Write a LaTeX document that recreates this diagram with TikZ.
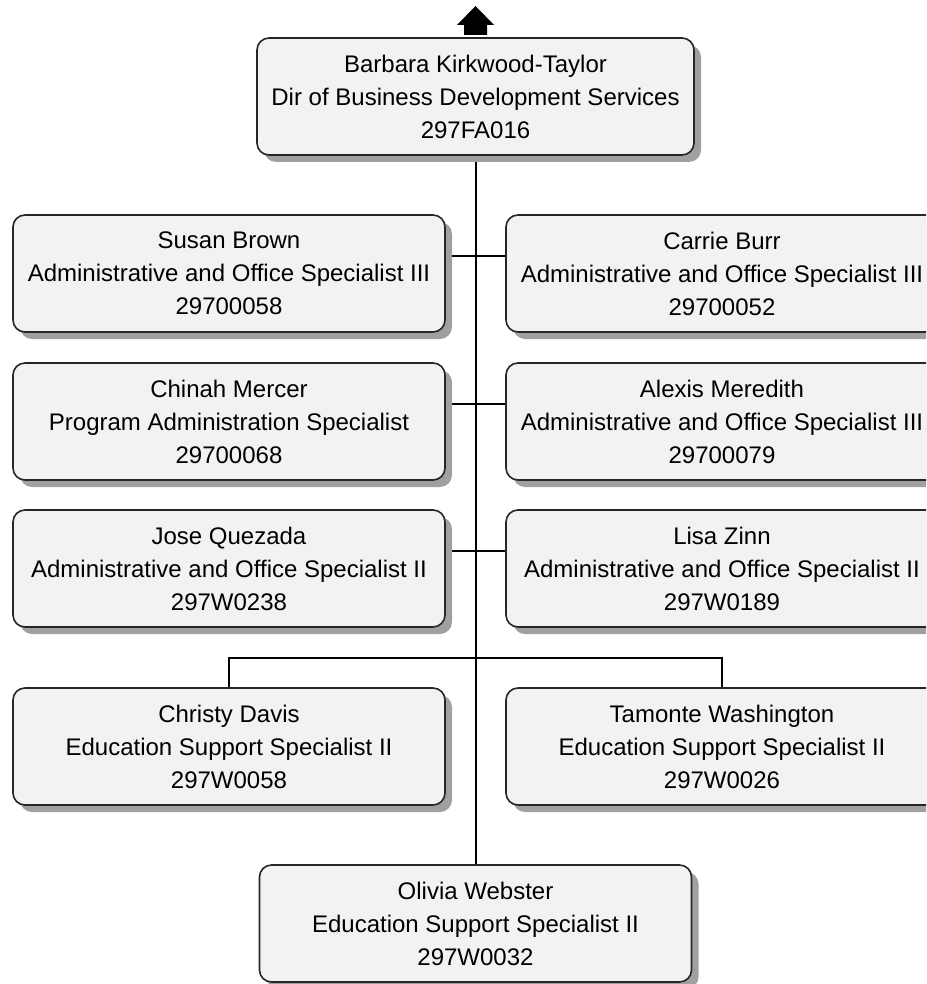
\documentclass[tikz,border=0pt]{standalone}
\usepackage{fontspec}
\setmainfont{Liberation Sans}
\usetikzlibrary{positioning,shadows,backgrounds}
\definecolor{boxfill}{RGB}{242,242,242}
\definecolor{boxshadow}{RGB}{160,160,160}

\begin{document}
\begin{tikzpicture}[node distance=30pt]
		\tikzstyle{employee}=[rectangle, rounded corners=6pt, line width=0.8pt, draw=black!85, fill=boxfill, minimum width=216pt, minimum height=58.5pt, outer sep=0pt, align=center, font=\fontsize{12}{16.5}\selectfont, drop shadow={shadow xshift=3.5pt, shadow yshift=-3.5pt, fill=boxshadow, opacity=1}]
		\tikzstyle{manager}=[employee, minimum width=218.5pt]
		\tikzstyle{link}=[line width=0.8pt]

		\useasboundingbox (-237.75pt,48.25pt) rectangle (225.25pt,-443.75pt);
		\clip (-237.75pt,48.25pt) rectangle (225.25pt,-443.75pt);

		\node [manager] (top) at (0,0) {Barbara Kirkwood-Taylor\\Dir of Business Development Services\\297FA016};
		\node [employee] (susan) [below left=30pt and 15.25pt of top.south] {Susan Brown\\Administrative and Office Specialist III\\29700058};
		\node [employee] (carrie) [right=30.5pt of susan] {Carrie Burr\\Administrative and Office Specialist III\\29700052};
		\node [employee] (chinah) [below=15.5pt of susan] {Chinah Mercer\\Program Administration Specialist\\29700068};
		\node [employee] (alexis) [right=30.5pt of chinah] {Alexis Meredith\\Administrative and Office Specialist III\\29700079};
		\node [employee] (jose) [below=15pt of chinah] {Jose Quezada\\Administrative and Office Specialist II\\297W0238};
		\node [employee] (lisa) [right=30.5pt of jose] {Lisa Zinn\\Administrative and Office Specialist II\\297W0189};
		\node [employee] (christy) [below=30.5pt of jose] {Christy Davis\\Education Support Specialist II\\297W0058};
		\node [employee] (tamonte) [right=30.5pt of christy] {Tamonte Washington\\Education Support Specialist II\\297W0026};
		\coordinate (bus) at (christy.south -| top.south);
		\node [employee] (olivia) [below=of bus] {Olivia Webster\\Education Support Specialist II\\297W0032};

		% reports-to arrow
		\fill ([shift={(-5.75pt,1.5pt)}]top.north) -- ++(0,5pt) -- ++(-3.5pt,0) -- ++(9.25pt,9.5pt) -- ++(9.25pt,-9.5pt) -- ++(-3.5pt,0) -- ++(0,-5pt) -- cycle;

		\begin{scope}[on background layer]
			\draw [line width=1pt] (top.south) -- (olivia.north);
			\draw [link] ([yshift=8.75pt]susan.east) -- ([yshift=8.75pt]carrie.west);
			\draw [link] ([yshift=8.75pt]chinah.east) -- ([yshift=8.75pt]alexis.west);
			\draw [link] ([yshift=8.75pt]jose.east) -- ([yshift=8.75pt]lisa.west);
			\draw [link] (christy.north) -- ++(0,15pt) -| (tamonte.north);
		\end{scope}
	\end{tikzpicture}
\end{document}
